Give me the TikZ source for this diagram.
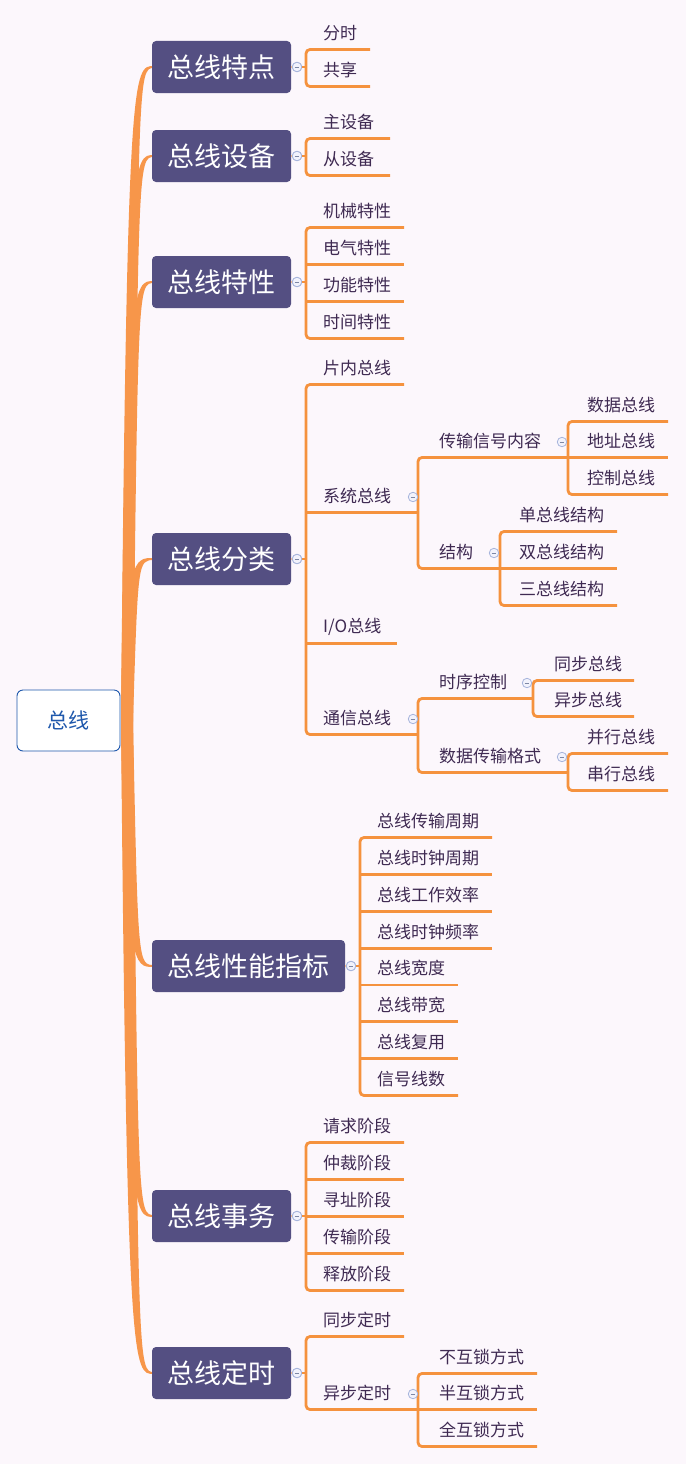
\documentclass[tikz,border=0pt]{standalone}
\usepackage{fontspec}
\setmainfont{Noto Sans CJK SC}
\definecolor{bgc}{HTML}{FCF7FC}
\definecolor{trk}{HTML}{F7964A}
\definecolor{brc}{HTML}{F5923E}
\definecolor{mainc}{HTML}{544F82}
\definecolor{txc}{HTML}{3F2A52}
\definecolor{rootc}{HTML}{1F58AC}
\definecolor{cirf}{HTML}{F2F2FC}
\definecolor{cird}{HTML}{A7B4DC}
\tikzset{
  mainbox/.style={fill=mainc, rounded corners=4pt, text=white, font=\fontsize{27}{31}\selectfont, minimum height=52pt, inner sep=0pt},
  rootbox/.style={fill=white, draw=rootc, line width=0.9pt, rounded corners=6pt, text=rootc, font=\fontsize{21}{25}\selectfont, minimum width=103pt, minimum height=61pt, inner sep=0pt},
  leaf/.style={anchor=west, inner sep=0pt, text=txc, font=\fontsize{17}{20}\selectfont},
  br/.style={draw=brc, line width=2.8pt, rounded corners=4pt},
  thinc/.style={draw=brc!60, line width=1.2pt},
  colc/.style={circle, minimum size=9.5pt, inner sep=0pt, fill=cirf, draw=cird, line width=0.8pt,
    path picture={\draw[cird!75!black, line width=0.8pt] ([xshift=-2.3pt]path picture bounding box.center) -- ([xshift=2.3pt]path picture bounding box.center);}},
}
% name, bracket x, text x, text y, underline end x, text
\newcommand\leafnode[6]{%
  \node[leaf] (#1) at (#3,#4) {#6};
  \coordinate (#1-l) at (#2,#4+16.5);
  \coordinate (#1-r) at (#5,#4+16.5);
}
\newcommand\trunkto[1]{%
  \pgfmathsetmacro\sg{ifthenelse(#1<721,-1,1)}%
  \pgfmathsetmacro\ya{#1+\sg*0.9}%
  \pgfmathsetmacro\yb{#1-\sg*0.9}%
  \pgfmathsetmacro\yc{#1+\sg*1.6}%
  \pgfmathsetmacro\yd{#1-\sg*1.6}%
  \fill[trk] (121,721) .. controls (127,#1) and (133,\yc) .. (154,\ya) -- (154,\yb) .. controls (138,\yd) and (138,#1) .. (133,721) -- cycle;
}
\begin{document}
\begin{tikzpicture}[x=1pt,y=-1pt]
\useasboundingbox (0,0) rectangle (686,1464);
\fill[bgc] (0,0) rectangle (686,1464);

% trunk
\trunkto{67}
\trunkto{156}
\trunkto{282}
\trunkto{559}
\trunkto{966}
\trunkto{1216}
\trunkto{1373}

% root and main nodes
\node[rootbox] (root) at (68.5,720.5) {总线};
\node[mainbox, minimum width=139pt] (m1) at (221.5,67) {总线特点};
\node[mainbox, minimum width=139pt] (m2) at (221.5,156) {总线设备};
\node[mainbox, minimum width=139pt] (m3) at (221.5,282) {总线特性};
\node[mainbox, minimum width=139pt] (m4) at (221.5,559) {总线分类};
\node[mainbox, minimum width=193pt] (m5) at (248.5,966) {总线性能指标};
\node[mainbox, minimum width=139pt] (m6) at (221.5,1216) {总线事务};
\node[mainbox, minimum width=139pt] (m7) at (221.5,1373) {总线定时};

% leaves
\leafnode{a1}{306}{323}{33}{370}{分时}
\leafnode{a2}{306}{323}{70}{370}{共享}
\leafnode{b1}{306}{323}{122}{390}{主设备}
\leafnode{b2}{306}{323}{159}{390}{从设备}
\leafnode{c1}{306}{323}{211}{404}{机械特性}
\leafnode{c2}{306}{323}{248}{404}{电气特性}
\leafnode{c3}{306}{323}{285}{404}{功能特性}
\leafnode{c4}{306}{323}{322}{404}{时间特性}
\leafnode{d1}{306}{323}{368}{404}{片内总线}
\leafnode{d2}{306}{323}{496}{418}{系统总线}
\leafnode{d3}{306}{323}{627}{397}{I/O总线}
\leafnode{d4}{306}{323}{718}{418}{通信总线}
\leafnode{e1}{418}{439}{441}{568}{传输信号内容}
\leafnode{e2}{418}{439}{552}{500}{结构}
\leafnode{f1}{568}{587}{405}{668}{数据总线}
\leafnode{f2}{568}{587}{441}{668}{地址总线}
\leafnode{f3}{568}{587}{478}{668}{控制总线}
\leafnode{g1}{500}{519}{515}{617}{单总线结构}
\leafnode{g2}{500}{519}{552}{617}{双总线结构}
\leafnode{g3}{500}{519}{589}{617}{三总线结构}
\leafnode{h1}{418}{439}{682}{533}{时序控制}
\leafnode{h2}{418}{439}{756}{568}{数据传输格式}
\leafnode{i1}{533}{554}{664}{634}{同步总线}
\leafnode{i2}{533}{554}{700}{634}{异步总线}
\leafnode{j1}{568}{587}{737}{668}{并行总线}
\leafnode{j2}{568}{587}{774}{668}{串行总线}
\leafnode{k1}{360}{377}{821}{492}{总线传输周期}
\leafnode{k2}{360}{377}{858}{492}{总线时钟周期}
\leafnode{k3}{360}{377}{894.7}{492}{总线工作效率}
\leafnode{k4}{360}{377}{931.6}{492}{总线时钟频率}
\leafnode{k5}{360}{377}{968.4}{458}{总线宽度}
\leafnode{k6}{360}{377}{1005.3}{458}{总线带宽}
\leafnode{k7}{360}{377}{1042.1}{458}{总线复用}
\leafnode{k8}{360}{377}{1079}{458}{信号线数}
\leafnode{l1}{306}{323}{1126}{404}{请求阶段}
\leafnode{l2}{306}{323}{1163}{404}{仲裁阶段}
\leafnode{l3}{306}{323}{1200}{404}{寻址阶段}
\leafnode{l4}{306}{323}{1237}{404}{传输阶段}
\leafnode{l5}{306}{323}{1274}{404}{释放阶段}
\leafnode{p1}{306}{323}{1320}{404}{同步定时}
\leafnode{p2}{306}{323}{1393}{418}{异步定时}
\leafnode{q1}{418}{439}{1357}{537}{不互锁方式}
\leafnode{q2}{418}{439}{1393}{537}{半互锁方式}
\leafnode{q3}{418}{439}{1430}{537}{全互锁方式}

% brackets (outer children with rounded corners)
\draw[br] (a1-r) -- (a1-l) -- (a2-l) -- (a2-r);
\draw[br] (b1-r) -- (b1-l) -- (b2-l) -- (b2-r);
\draw[br] (c1-r) -- (c1-l) -- (c4-l) -- (c4-r);
\draw[br] (d1-r) -- (d1-l) -- (d4-l) -- (d4-r);
\draw[br] (e1-r) -- (e1-l) -- (e2-l) -- (e2-r);
\draw[br] (f1-r) -- (f1-l) -- (f3-l) -- (f3-r);
\draw[br] (g1-r) -- (g1-l) -- (g3-l) -- (g3-r);
\draw[br] (h1-r) -- (h1-l) -- (h2-l) -- (h2-r);
\draw[br] (i1-r) -- (i1-l) -- (i2-l) -- (i2-r);
\draw[br] (j1-r) -- (j1-l) -- (j2-l) -- (j2-r);
\draw[br] (k1-r) -- (k1-l) -- (k8-l) -- (k8-r);
\draw[br] (l1-r) -- (l1-l) -- (l5-l) -- (l5-r);
\draw[br] (p1-r) -- (p1-l) -- (p2-l) -- (p2-r);
\draw[br] (q1-r) -- (q1-l) -- (q3-l) -- (q3-r);
% middle children
\foreach \n in {c2,c3,d2,d3,f2,g2,k2,k3,k4,k5,k6,k7,l2,l3,l4,q2}
  \draw[br] (\n-l) -- (\n-r);

% collapse circles and connectors from main nodes
\foreach \m/\y/\c/\f in {m1/67/297/a1, m2/156/297/b1, m3/282/297/c1, m4/559/297/d1, m5/966/351/k1, m6/1216/297/l1, m7/1373/297/p1}{
  \node[colc] (o\m) at (\c,\y) {};
  \draw[thinc] (\m.east) -- (o\m.west);
  \draw[br, rounded corners=0pt] (o\m.east) -- (o\m -| \f-l);
  \node[colc] at (o\m) {};
}
% collapse circles of sub-branches
\node[colc] (od2) at (413,497) {};
\node[colc] (od4) at (413,719) {};
\node[colc] (oe1) at (562,442) {};
\node[colc] (oe2) at (494,553) {};
\node[colc] (oh1) at (527,683) {};
\node[colc] (oh2) at (562,757) {};
\node[colc] (op2) at (413,1394) {};
\end{tikzpicture}
\end{document}
